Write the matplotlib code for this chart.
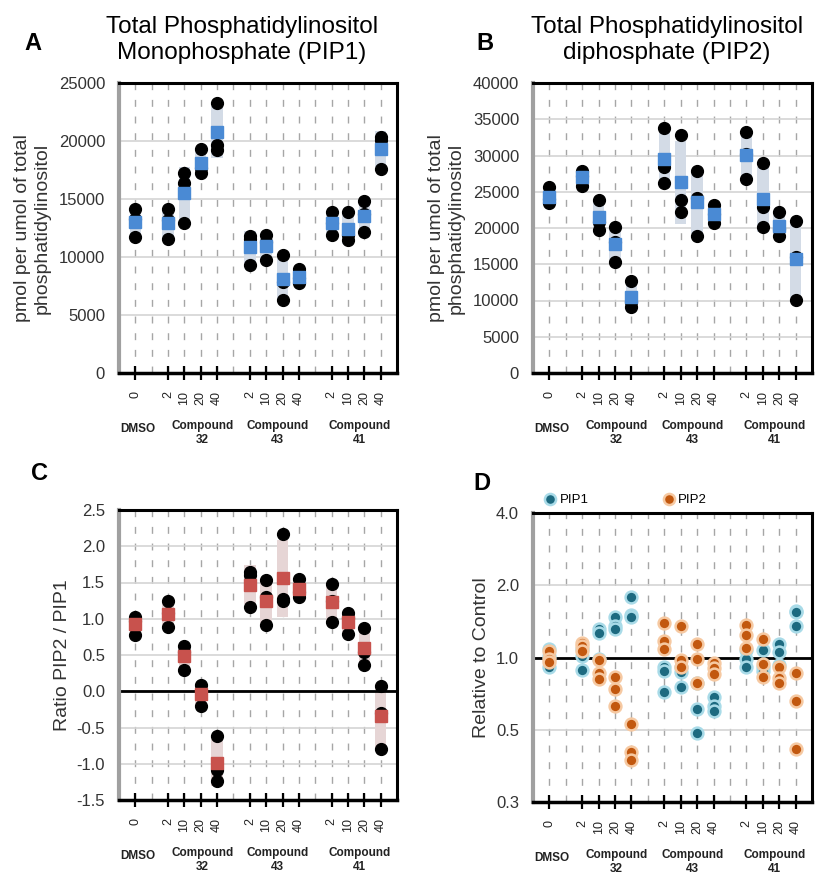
import numpy as np
import matplotlib
matplotlib.use("Agg")
import matplotlib.pyplot as plt
from matplotlib.lines import Line2D

plt.rcParams['font.family'] = ['Liberation Sans', 'DejaVu Sans']

# x layout: DMSO, gap, compound 32 (4 doses), gap, compound 43, gap, compound 41
positions = [1, 3, 4, 5, 6, 8, 9, 10, 11, 13, 14, 15, 16]
dose_labels = ['0', '2', '10', '20', '40', '2', '10', '20', '40', '2', '10', '20', '40']
group_labels = ['DMSO', 'Compound\n32', 'Compound\n43', 'Compound\n41']
group_x = [1.15, 5.1, 9.7, 14.7]

# A: PIP1, three replicates per condition
pip1 = [[14140, 13255, 11755], [14140, 13185, 11555], [17215, 16410, 12960],
        [19285, 17685, 17270], [23310, 19660, 19230], [11840, 11520, 9310],
        [11900, 11295, 9745], [10145, 7875, 6295], [8940, 8185, 7790],
        [13910, 12905, 11900], [13910, 11865, 11470], [14860, 13705, 12130],
        [20375, 20090, 17560]]

# B: PIP2
pip2 = [[25600, 23940, 23390], [27890, 27195, 25825], [23850, 20835, 19725],
        [20090, 18035, 15275], [12750, 9820, 9080], [33760, 28440, 26240],
        [32800, 23900, 22155], [27800, 24130, 18945], [23165, 21970, 20640],
        [33300, 30275, 26700], [28900, 22840, 20180], [22155, 19860, 18945],
        [21010, 15960, 10090]]

# C: ratio PIP2 / PIP1
ratio = [[1.018, 0.974, 0.774], [1.244, 1.083, 0.880], [0.622, 0.548, 0.295],
         [0.083, 0.009, -0.203], [-0.618, -1.092, -1.244], [1.65, 1.604, 1.157],
         [1.535, 1.304, 0.912], [2.166, 1.267, 1.24], [1.548, 1.374, 1.295],
         [1.484, 1.244, 0.949], [1.074, 1.009, 0.793], [0.866, 0.544, 0.359],
         [0.069, -0.295, -0.802]]

# D: relative to control
rel_pip1 = [[1.09, 1.01, 0.91], [1.08, 1.01, 0.89], [1.32, 1.26, 0.99],
            [1.48, 1.35, 1.32], [1.79, 1.51, 1.47], [0.91, 0.88, 0.72],
            [0.91, 0.87, 0.75], [0.78, 0.61, 0.485], [0.685, 0.625, 0.60],
            [1.07, 0.99, 0.91], [1.07, 0.91, 0.88], [1.14, 1.05, 0.93],
            [1.56, 1.54, 1.35]]
rel_pip2 = [[1.06, 0.99, 0.96], [1.15, 1.12, 1.06], [0.98, 0.86, 0.81],
            [0.83, 0.74, 0.63], [0.53, 0.405, 0.375], [1.39, 1.17, 1.08],
            [1.35, 0.98, 0.91], [1.14, 0.99, 0.78], [0.95, 0.90, 0.85],
            [1.37, 1.245, 1.10], [1.19, 0.94, 0.83], [0.91, 0.82, 0.78],
            [0.86, 0.66, 0.415]]

fig = plt.figure(figsize=(8.15, 8.75), dpi=100)
W, H = 815, 875


def make_axes(left, top, right, bottom):
    return fig.add_axes([left / W, 1 - bottom / H, (right - left) / W, (bottom - top) / H])


def style_axes(ax):
    ax.set_xlim(0, 17)
    ax.set_xticks(positions)
    ax.set_xticklabels(dose_labels, rotation=90)
    ax.set_xticks(np.arange(1, 17), minor=True)
    ax.tick_params(axis='x', which='major', direction='inout', length=10, width=1.6,
                   color='black', labelsize=9, pad=8, labelcolor='#222222')
    ax.tick_params(axis='x', which='minor', length=0)
    ax.tick_params(axis='y', length=0, labelsize=12, pad=10, labelcolor='#333333')
    ax.grid(True, axis='x', which='both', color='#a6a6a6', lw=1, ls=(0, (5, 7)))
    ax.grid(True, axis='y', which='major', color='#d4d4d4', lw=1.2)
    ax.set_axisbelow(True)
    for s in ['top', 'right']:
        ax.spines[s].set_linewidth(2.2)
        ax.spines[s].set_color('black')
    ax.spines['bottom'].set_linewidth(2.5)
    ax.spines['left'].set_linewidth(3)
    ax.spines['left'].set_color('#a0a0a0')
    for gx, gl in zip(group_x, group_labels):
        yy = -0.193 if gl == 'DMSO' else -0.207
        ax.text(gx, yy, gl, transform=ax.get_xaxis_transform(), ha='center', va='center',
                fontsize=8.5, fontweight='bold', linespacing=1.2, color='#222222')


def dot_panel(ax, data, sq_color, bar_color):
    for x, vals in zip(positions, data):
        m = np.mean(vals)
        sd = np.std(vals, ddof=1)
        ax.bar(x, 2 * sd, bottom=m - sd, width=0.7, color=bar_color, zorder=2)
        ax.plot([x] * len(vals), vals, 'o', color='black', ms=8.5, zorder=3)
        ax.plot(x, m, 's', color=sq_color, ms=9, zorder=4)


# A
axA = make_axes(119, 83, 397, 373)
dot_panel(axA, pip1, '#4a8ad4', '#d3dbe6')
axA.set_ylim(0, 25000)
axA.set_yticks(np.arange(0, 25001, 5000))
axA.set_ylabel('pmol per umol of total\nphosphatidylinositol', fontsize=14, color='#333333',
               linespacing=1.15, labelpad=6)
style_axes(axA)

# B
axB = make_axes(533, 83, 812, 373)
dot_panel(axB, pip2, '#4a8ad4', '#d3dbe6')
axB.set_ylim(0, 40000)
axB.set_yticks(np.arange(0, 40001, 5000))
axB.set_ylabel('pmol per umol of total\nphosphatidylinositol', fontsize=14, color='#333333',
               linespacing=1.15, labelpad=6)
style_axes(axB)

# C
axC = make_axes(119, 510, 397, 800)
dot_panel(axC, ratio, '#c8524d', '#e6d5d5')
axC.set_ylim(-1.5, 2.5)
axC.set_yticks(np.arange(-1.5, 2.51, 0.5))
axC.set_yticklabels([f'{v:.1f}' for v in np.arange(-1.5, 2.51, 0.5)])
axC.axhline(0, color='black', lw=2, zorder=2.5)
axC.set_ylabel('Ratio PIP2 / PIP1', fontsize=14, color='#333333')
style_axes(axC)

# D
axD = make_axes(533, 513, 812, 802)
for x, v1, v2 in zip(positions, rel_pip1, rel_pip2):
    axD.plot([x] * 3, v1, 'o', color='#1d6a80', mec='#a9dbe8', mew=1.8, ms=8.5, zorder=3)
    axD.plot([x] * 3, v2, 'o', color='#c2580f', mec='#f6c9a2', mew=1.8, ms=8.5, zorder=3)
axD.set_yscale('log', base=2)
axD.set_ylim(0.25, 4.0)
axD.set_yticks([0.25, 0.5, 1.0, 2.0, 4.0])
axD.set_yticklabels(['0.3', '0.5', '1.0', '2.0', '4.0'])
axD.axhline(1.0, color='black', lw=2, zorder=2.5)
axD.set_ylabel('Relative to Control', fontsize=14, color='#333333')
style_axes(axD)
axD.yaxis.set_minor_locator(matplotlib.ticker.NullLocator())
handles = [Line2D([], [], ls='none', marker='o', color='#1d6a80', mec='#a9dbe8', mew=1.8, ms=8),
           Line2D([], [], ls='none', marker='o', color='#c2580f', mec='#f6c9a2', mew=1.8, ms=8)]
axD.legend(handles, ['PIP1', 'PIP2'], loc='lower left', bbox_to_anchor=(0.015, 1.0), ncol=2,
           frameon=False, handlelength=1.0, handletextpad=0.2, columnspacing=5.6,
           fontsize=9.5, borderaxespad=0.1)

# titles and panel letters
fig.text(242 / W, 1 - 40 / H, 'Total Phosphatidylinositol\nMonophosphate (PIP1)',
         ha='center', va='center', fontsize=17.5, linespacing=1.2)
fig.text(667 / W, 1 - 40 / H, 'Total Phosphatidylinositol\ndiphosphate (PIP2)',
         ha='center', va='center', fontsize=17.5, linespacing=1.2)
for lab, lx, ly in [('A', 33, 43), ('B', 485, 43), ('C', 40, 473), ('D', 482, 483)]:
    fig.text(lx / W, 1 - ly / H, lab, ha='center', va='center', fontsize=17, fontweight='bold')

fig.savefig('out.png', dpi=100)
